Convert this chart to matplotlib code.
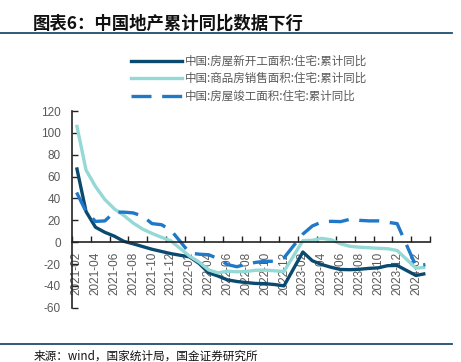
import matplotlib
matplotlib.use('Agg')
import matplotlib.pyplot as plt
from matplotlib.lines import Line2D

plt.rcParams['font.family'] = ['Liberation Sans', 'Noto Sans CJK SC', 'DejaVu Sans']
plt.rcParams['axes.unicode_minus'] = False

# 月份（1月无数据，统计局1-2月合并发布）
months = ['2021-02', '2021-03', '2021-04', '2021-05', '2021-06', '2021-07', '2021-08',
          '2021-09', '2021-10', '2021-11', '2021-12',
          '2022-02', '2022-03', '2022-04', '2022-05', '2022-06', '2022-07', '2022-08',
          '2022-09', '2022-10', '2022-11', '2022-12',
          '2023-02', '2023-03', '2023-04', '2023-05', '2023-06', '2023-07', '2023-08',
          '2023-09', '2023-10', '2023-11', '2023-12',
          '2024-02', '2024-03']

new_start = [68.5, 28.0, 13.7, 9.0, 5.5, 0.8, -1.5, -4.0, -6.5, -8.5, -10.5,
             -13.5, -19.5, -28.0, -31.0, -34.5, -36.0, -37.0, -37.8, -38.0, -38.8, -40.0,
             -9.0, -17.0, -20.5, -23.0, -25.0, -25.2, -24.8, -24.0, -23.5, -21.5, -21.3,
             -30.5, -28.8]
sales = [107.5, 66.0, 51.0, 39.0, 30.5, 24.5, 17.5, 12.0, 8.0, 4.5, 1.2,
         -12.9, -18.3, -25.4, -28.1, -26.6, -27.1, -26.8, -25.7, -25.6, -26.2, -26.8,
         1.4, 1.7, 3.5, 2.2, -1.5, -3.8, -4.6, -5.1, -5.6, -6.0, -7.6,
         -23.8, -23.0]
completed = [45.5, 28.0, 19.0, 19.5, 27.5, 27.5, 26.8, 23.8, 17.0, 16.0, 11.0,
             -10.0, -11.0, -11.5, -15.0, -20.5, -22.5, -20.0, -18.5, -17.5, -17.5, -14.3,
             7.4, 14.8, 18.5, 19.1, 18.8, 21.0, 20.0, 19.5, 19.5, 18.2, 17.0,
             -22.0, -20.5]

labels = ['中国:房屋新开工面积:住宅:累计同比', '中国:商品房销售面积:住宅:累计同比',
          '中国:房屋竣工面积:住宅:累计同比']
colors = ['#0a4a6e', '#94d9d6', '#1f78c8']


def mpos(s):
    y, m = s.split('-')
    return (int(y) - 2021) * 12 + int(m) - 2


x = [mpos(m) for m in months]

fig = plt.figure(figsize=(4.61, 3.62), dpi=100)
ax = fig.add_axes([0.156, 0.150, 0.777, 0.543])

ax.plot(x, new_start, color=colors[0], lw=2.4, solid_capstyle='butt')
ax.plot(x, sales, color=colors[1], lw=2.4, solid_capstyle='butt')
ax.plot(x, completed, color=colors[2], lw=2.4, dashes=(6, 3.2), dash_capstyle='butt')

ax.set_ylim(-60, 120)
ax.set_yticks(range(-60, 121, 20))
ax.set_xlim(-0.5, mpos('2024-03') + 0.5)

ax.spines['top'].set_visible(False)
ax.spines['right'].set_visible(False)
ax.spines['bottom'].set_position(('data', 0))
for sp in ['left', 'bottom']:
    ax.spines[sp].set_linewidth(1.2)
    ax.spines[sp].set_color('#222222')

# 刻度在类别之间，标签居中
tick_lbls = ['%d-%02d' % (y, mm) for y in range(2021, 2025) for mm in range(2, 13, 2)]
tick_lbls = [m for m in tick_lbls if mpos(m) <= mpos('2024-02')]
ax.set_xticks([mpos(m) for m in tick_lbls], minor=True)
ax.set_xticklabels(tick_lbls, minor=True)
ax.set_xticks([v - 0.5 for v in range(0, mpos('2024-03') + 2, 2)])
ax.set_xticklabels([])
ax.tick_params(axis='x', which='major', direction='in', length=4, width=1, color='#222222')
ax.tick_params(axis='x', which='minor', length=0, pad=7, labelsize=8.5,
               labelcolor='#595959', labelrotation=90)
ax.tick_params(axis='y', direction='in', length=4, width=1, color='#222222',
               labelsize=8.5, labelcolor='#595959', pad=8)

handles = [Line2D([], [], color=colors[0], lw=2.4),
           Line2D([], [], color=colors[1], lw=2.4),
           Line2D([], [], color=colors[2], lw=2.4, dashes=(6, 3.2))]
leg = fig.legend(handles, labels, loc='upper left', bbox_to_anchor=(0.262, 0.878),
                 frameon=False, handlelength=4.4, handletextpad=0.25, labelspacing=0.4,
                 prop={'family': ['Noto Sans CJK SC', 'DejaVu Sans'], 'size': 8.3})
for t in leg.get_texts():
    t.set_color('#595959')

fig.text(0.072, 0.936, '图表6：中国地产累计同比数据下行', fontsize=12.5, fontweight='bold',
         family=['Noto Sans CJK SC', 'DejaVu Sans'], color='#111111', va='center')
fig.add_artist(Line2D([0, 0.98], [0.91, 0.91], color='#1f4e6e', lw=1.3))
fig.add_artist(Line2D([0, 0.98], [0.049, 0.049], color='#1f4e6e', lw=1.3))
fig.text(0.072, 0.017, '来源：wind，国家统计局，国金证券研究所', fontsize=8.4,
         family=['Noto Sans CJK SC', 'DejaVu Sans'], color='#111111', va='center')

fig.savefig('out.png', dpi=100)
